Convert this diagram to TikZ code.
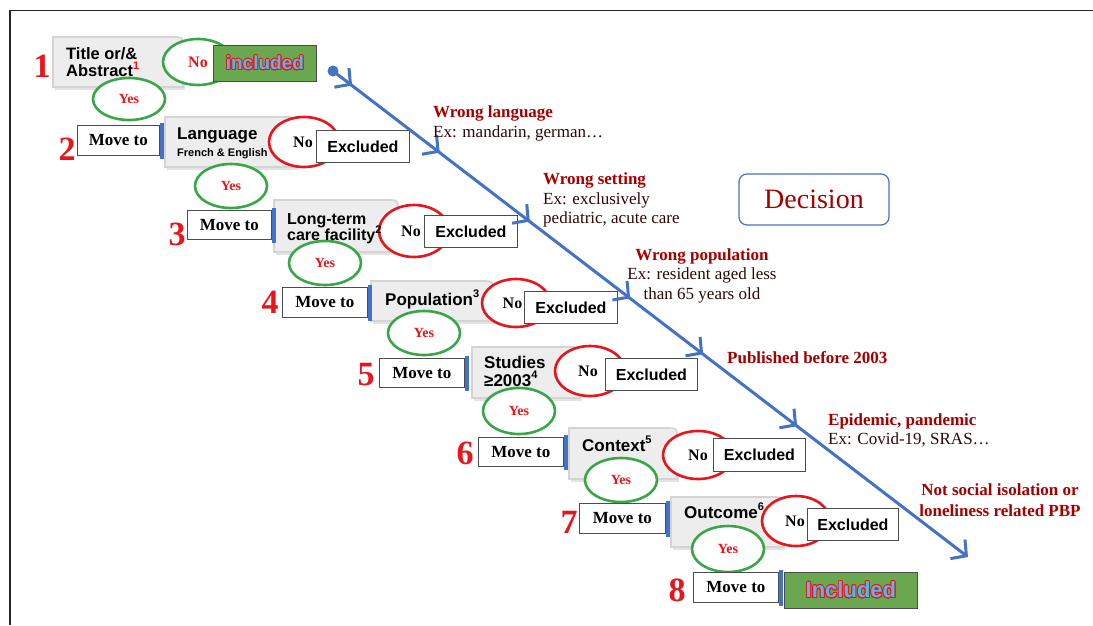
\documentclass[tikz,border=0pt]{standalone}
\usepackage{fontspec}
\setmainfont{Liberation Serif}
\newfontfamily\arialf{Liberation Sans}
\usepackage{contour}
\contourlength{0.9pt}
\usetikzlibrary{shapes.geometric,arrows.meta,decorations.markings,calc}
\definecolor{bluel}{HTML}{4472C4}
\definecolor{greenl}{HTML}{3AA648}
\definecolor{redl}{HTML}{E8161C}
\definecolor{incgreen}{HTML}{6AA84F}
\definecolor{inctext}{HTML}{5BB3E6}
\definecolor{annred}{HTML}{A50000}
\definecolor{exdark}{HTML}{2B0808}
\definecolor{graybx}{HTML}{EDEDED}
\definecolor{graybd}{HTML}{D4D4D4}
\newcommand{\spx}[1]{\raisebox{0.42em}{\fontsize{11}{11}\selectfont #1}}
\tikzset{
  boxst/.style={draw=gray!60!black, line width=0.8pt, fill=white, rectangle, inner sep=0pt, anchor=north west},
  movebox/.style={boxst, font=\fontsize{17}{17}\selectfont\bfseries},
  exbox/.style={boxst, font=\arialf\bfseries\fontsize{16}{16}\selectfont},
  incbox/.style={boxst, fill=incgreen},
  noell/.style={ellipse, draw=redl, line width=2.6pt, fill=white, inner sep=0pt, font=\fontsize{16}{16}\selectfont\bfseries},
  yesell/.style={ellipse, draw=greenl, line width=2.6pt, fill=white, inner sep=0pt, minimum width=72pt, text=redl, font=\fontsize{14}{14}\selectfont\bfseries},
  grayst/.style={fill=graybx, draw=graybd, line width=1.6pt},
  glabel/.style={anchor=base west, inner sep=0pt, font=\arialf\bfseries\fontsize{17}{17}\selectfont},
  numst/.style={text=redl, inner sep=0pt, font=\bfseries\fontsize{34}{34}\selectfont},
  anntitle/.style={inner sep=0pt, text=annred, font=\bfseries\fontsize{17}{17}\selectfont},
  anntext/.style={inner sep=0pt, text=exdark, font=\fontsize{17}{17}\selectfont},
  bluebar/.style={fill=bluel},
  barb/.tip={Straight Barb[length=11pt,width=24pt]},
}
\newcommand{\grbox}[5]{%
  \path (#2,#3) coordinate (#1nw) (#4,#5) coordinate (#1se);
  \fill[gray!22] ($(#2,#5)+(2,2.5)$) rectangle ($(#4,#3)+(2,12)$);
  \draw[grayst] (#2,#5) -- (#2,#3) -- ($(#4,#3)+(-10,0)$) .. controls (#4,#3) .. ($(#4,#3)+(0,10)$) -- (#4,#5) -- cycle;
}
\newcommand{\bbar}[1]{%
  \fill[bluebar] ($(#1.north east)+(0.5,-2)$) rectangle ($(#1.south east)+(4,3)$);
}
\begin{document}
\begin{tikzpicture}[x=1pt,y=-1pt]
\useasboundingbox (0,0) rectangle (1093,625);
\fill[white] (0,0) rectangle (1093,625);
% frame
\draw[gray!30!black, line width=1.5pt] (10,625) -- (10,10.5) -- (1093,10.5);

% gray criterion boxes
\grbox{g1}{53}{37}{183}{87}
\grbox{g2}{165}{117}{296}{167}
\grbox{g3}{274}{200}{398}{252}
\grbox{g4}{371}{281}{493}{321}
\grbox{g5}{472}{347}{580}{398}
\grbox{g6}{569}{428}{677}{479}
\grbox{g7}{671}{497}{783}{547}

% No ellipses
\node[noell, draw=greenl, text=redl, minimum width=70pt, minimum height=46pt] (e1) at (198,62) {No};
\node[noell, minimum width=70pt, minimum height=50pt] (e2) at (304,142) {\hspace*{-2pt}No};
\node[noell, minimum width=70pt, minimum height=52pt] (e3) at (414,231) {\hspace*{-6pt}No};
\node[noell, minimum width=68pt, minimum height=48pt] (e4) at (516,303) {\hspace*{-7pt}No};
\node[noell, minimum width=70pt, minimum height=50pt] (e5) at (590,371) {\hspace*{-4pt}No};
\node[noell, minimum width=70pt, minimum height=48pt] (e6) at (698,455) {No};
\node[noell, minimum width=68pt, minimum height=50pt] (e7) at (796,521) {\hspace*{-2pt}No};

% Yes ellipses
\node[yesell, minimum height=42pt] (y1) at (129,99) {Yes};
\node[yesell, minimum height=44pt] (y2) at (231,186) {Yes};
\node[yesell, minimum height=44pt] (y3) at (325,263) {Yes};
\node[yesell, minimum height=44pt] (y4) at (424,333) {Yes};
\node[yesell, minimum height=46pt] (y5) at (519,411) {Yes};
\node[yesell, minimum height=44pt] (y6) at (621,480) {Yes};
\node[yesell, minimum height=46pt] (y7) at (728,549) {Yes};

% gray box labels
\node[glabel, font=\arialf\bfseries\fontsize{16.5}{16.5}\selectfont] (l1a) at (66,59) {Title or/\&};
\node[glabel, font=\arialf\bfseries\fontsize{16.5}{16.5}\selectfont] (l1b) at (66,76) {Abstract\spx{\textcolor{redl}{1}}};
\node[glabel] (l2a) at (177,139) {Language};
\node[glabel, font=\arialf\bfseries\fontsize{11}{11}\selectfont] (l2b) at (177,156) {French \& English};
\node[glabel, font=\arialf\bfseries\fontsize{16}{16}\selectfont] (l3a) at (287,224) {Long-term};
\node[glabel, font=\arialf\bfseries\fontsize{16}{16}\selectfont] (l3b) at (287,240) {care facility\spx{2}};
\node[glabel] (l4) at (385,305) {Population\spx{3}};
\node[glabel] (l5a) at (484,368) {Studies};
\node[glabel] (l5b) at (484,386) {≥2003\spx{4}};
\node[glabel] (l6) at (582,451) {Context\spx{5}};
\node[glabel] (l7) at (684,518) {Outcome\spx{6}};

% Excluded boxes
\node[exbox, minimum width=93pt, minimum height=32pt] (x2) at (316,130) {Excluded};
\node[exbox, minimum width=93pt, minimum height=32pt] (x3) at (424,215) {Excluded};
\node[exbox, minimum width=93pt, minimum height=32pt] (x4) at (524,291) {Excluded};
\node[exbox, minimum width=92pt, minimum height=32pt] (x5) at (605,358) {Excluded};
\node[exbox, minimum width=92pt, minimum height=33pt] (x6) at (713,438) {Excluded};
\node[exbox, minimum width=91pt, minimum height=32pt] (x7) at (807,508) {Excluded};

% Included boxes
\node[incbox, minimum width=103pt, minimum height=36pt, font=\arialf\bfseries\fontsize{19}{19}\selectfont] (i1) at (213,45) {\contour{redl}{\textcolor{inctext}{included}}};
\node[incbox, minimum width=133pt, minimum height=36pt, font=\arialf\bfseries\fontsize{22}{22}\selectfont] (i8) at (784,572) {\contour{redl}{\textcolor{inctext}{Included}}};

% Move to boxes
\node[movebox, minimum width=82pt, minimum height=30pt] (m2) at (77,125) {Move to};
\node[movebox, minimum width=84pt, minimum height=29pt] (m3) at (187,210) {Move to};
\node[movebox, minimum width=85pt, minimum height=30pt] (m4) at (282,287) {Move to};
\node[movebox, minimum width=85pt, minimum height=29pt] (m5) at (379,358) {Move to};
\node[movebox, minimum width=85pt, minimum height=29pt] (m6) at (478,437) {Move to};
\node[movebox, minimum width=86pt, minimum height=30pt] (m7) at (579,503) {Move to};
\node[movebox, minimum width=85pt, minimum height=30pt] (m8) at (693,572) {Move to};
\bbar{m2}\bbar{m3}\bbar{m4}\bbar{m5}\bbar{m6}\bbar{m7}\bbar{m8}

% step numbers
\node[numst] (n1) at (42,66) {1};
\node[numst] (n2) at (67,149) {2};
\node[numst] (n3) at (177,234) {3};
\node[numst] (n4) at (270,302) {4};
\node[numst] (n5) at (366,375) {5};
\node[numst] (n6) at (465,453) {6};
\node[numst] (n7) at (569,522) {7};
\node[numst] (n8) at (677,590) {8};

% decision line
\coordinate (ls) at (333,71);
\coordinate (le) at (968,557);
\draw[bluel, line width=3pt, -barb,
  postaction={decorate}, decoration={markings,
    mark=at position 0.03 with {\arrow{barb}},
    mark=at position 0.168 with {\arrow{barb}},
    mark=at position 0.31 with {\arrow{barb}},
    mark=at position 0.468 with {\arrow{barb}},
    mark=at position 0.583 with {\arrow{barb}},
    mark=at position 0.731 with {\arrow{barb}}}] (ls) -- (le);
\fill[bluel] (ls) circle (5.5);

% annotations
\node[anntitle, anchor=base west] (a1) at (433,117) {Wrong language};
\node[anntext, anchor=base west] (a1b) at (433,137) {Ex: mandarin, german…};
\node[anntitle, anchor=base west] (a2) at (543,184) {Wrong setting};
\node[anntext, anchor=base west] (a2b) at (543,204) {Ex: exclusively};
\node[anntext, anchor=base west] (a2c) at (543,223) {pediatric, acute care};
\node[anntitle, anchor=base] (a3) at (702,260) {Wrong population};
\node[anntext, anchor=base] (a3b) at (702,279) {Ex: resident aged less};
\node[anntext, anchor=base] (a3c) at (702,299) {than 65 years old};
\node[anntitle, anchor=base west] (a4) at (727,363) {Published before 2003};
\node[anntitle, anchor=base west] (a5) at (828,425) {Epidemic, pandemic};
\node[anntext, anchor=base west] (a5b) at (828,444) {Ex: Covid-19, SRAS…};
\node[anntitle, anchor=base] (a6) at (1000,495) {Not social isolation or};
\node[anntitle, anchor=base] (a6b) at (1000,516) {loneliness related PBP};

% Decision box
\node[draw=bluel, line width=1.2pt, rounded corners=8pt, fill=white, minimum width=150pt, minimum height=51pt, text=annred, font=\fontsize{28}{28}\selectfont] (dec) at (814,199.5) {Decision};
\end{tikzpicture}
\end{document}
